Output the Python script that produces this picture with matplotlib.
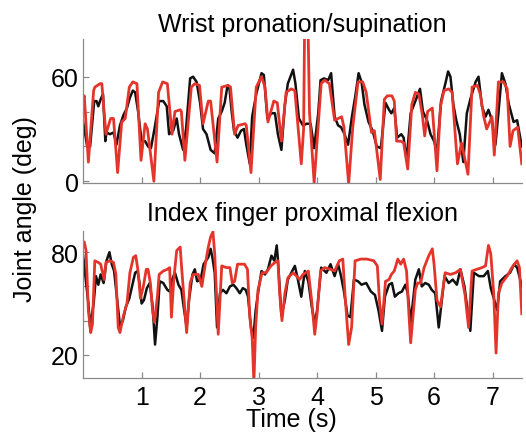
import matplotlib
matplotlib.use("Agg")
import matplotlib.pyplot as plt

plt.rcParams['font.family'] = ['Liberation Sans', 'DejaVu Sans']

# --- Wrist pronation/supination (deg) ---
wrist_t_black = [0.00, 0.07, 0.12, 0.19, 0.23, 0.26, 0.30, 0.34, 0.38, 0.40, 0.46, 0.52, 0.57, 0.63,
                 0.69, 0.75, 0.80, 0.85, 0.89, 0.94, 1.00, 1.06, 1.11, 1.16, 1.22, 1.30, 1.37, 1.43,
                 1.47, 1.54, 1.60, 1.64, 1.71, 1.76, 1.83, 1.88, 1.94, 2.00, 2.05, 2.11, 2.18, 2.25,
                 2.31, 2.37, 2.42, 2.47, 2.50, 2.54, 2.58, 2.64, 2.70, 2.75, 2.79, 2.85, 2.89, 2.96,
                 3.05, 3.09, 3.15, 3.22, 3.28, 3.33, 3.39, 3.45, 3.50, 3.59, 3.63, 3.69, 3.76, 3.82,
                 3.89, 3.95, 4.02, 4.06, 4.12, 4.19, 4.24, 4.30, 4.36, 4.41, 4.47, 4.53, 4.60, 4.65,
                 4.71, 4.76, 4.81, 4.88, 4.95, 5.02, 5.09, 5.17, 5.23, 5.27, 5.32, 5.37, 5.44, 5.48,
                 5.53, 5.60, 5.68, 5.76, 5.81, 5.88, 5.94, 6.00, 6.05, 6.12, 6.20, 6.24, 6.28, 6.33,
                 6.38, 6.44, 6.50, 6.56, 6.62, 6.71, 6.76, 6.82, 6.88, 6.93, 6.99, 7.05, 7.10, 7.16,
                 7.22, 7.28, 7.36, 7.42, 7.50]
wrist_black = [34, 20, 20, 46, 46, 43, 47, 50, 23, 28, 27, 28, 21, 32,
               38, 42, 48, 52, 51, 40, 23, 23, 20, 19, 30, 46, 46, 43,
               27, 29, 36, 27, 18, 30, 59, 60, 57, 45, 30, 27, 18, 16,
               36, 40, 45, 55, 54, 40, 29, 25, 29, 30, 21, 10, 37, 50,
               62, 61, 36, 39, 39, 27, 18, 44, 56, 64, 56, 36, 32, 33,
               33, 19, 39, 58, 59, 58, 62, 37, 32, 31, 27, 21, 38, 48,
               62, 57, 44, 34, 29, 20, 19, 45, 41, 39, 42, 25, 27, 25,
               12, 39, 46, 53, 40, 35, 27, 23, 17, 46, 57, 63, 60, 44,
               35, 27, 11, 39, 47, 57, 60, 43, 37, 41, 35, 21, 39, 62,
               56, 44, 34, 35, 20]

wrist_t_red = [0.00, 0.02, 0.09, 0.18, 0.20, 0.29, 0.32, 0.39, 0.47, 0.52, 0.59, 0.66, 0.72, 0.79,
               0.85, 0.92, 0.99, 1.06, 1.10, 1.21, 1.29, 1.36, 1.44, 1.52, 1.57, 1.66, 1.68, 1.74,
               1.85, 1.91, 1.99, 2.05, 2.14, 2.18, 2.29, 2.37, 2.48, 2.52, 2.59, 2.65, 2.77, 2.79,
               2.87, 2.96, 3.05, 3.11, 3.16, 3.26, 3.32, 3.39, 3.47, 3.56, 3.62, 3.73, 3.77, 3.79,
               3.84, 3.87, 3.95, 4.07, 4.13, 4.21, 4.30, 4.42, 4.46, 4.54, 4.61, 4.70, 4.78, 4.84,
               4.93, 4.98, 5.08, 5.15, 5.20, 5.28, 5.32, 5.36, 5.43, 5.48, 5.55, 5.62, 5.68, 5.74,
               5.80, 5.84, 5.89, 5.97, 6.05, 6.11, 6.17, 6.25, 6.31, 6.37, 6.40, 6.47, 6.58, 6.65,
               6.74, 6.79, 6.85, 6.90, 6.99, 7.03, 7.10, 7.19, 7.25, 7.30, 7.35, 7.43, 7.50]
wrist_red = [47, 49, 11, 52, 54, 56, 56, 27, 36, 36, 5, 34, 36, 54,
             57, 56, 12, 33, 30, 0, 51, 57, 56, 27, 40, 41, 40, 12,
             54, 56, 55, 33, 46, 46, 11, 54, 55, 54, 27, 32, 33, 32,
             5, 54, 60, 54, 34, 46, 45, 23, 51, 53, 52, 10, 30, 100,
             100, 40, -1, 56, 58, 56, 35, 37, 31, -1.5, 31, 57, 57, 51,
             28, 29, 1, 47, 49, 49, 46, 23, 23, 22, 7, 44, 51, 50,
             38, 26, 40, 42, 6, 43, 52, 53, 51, 23, 10, 22, 4, 54,
             55, 50, 37, 30, 37, 15, 57, 57, 53, 20, 29, 31, 10]

# --- Index finger proximal flexion (deg) ---
index_t_black = [0.00, 0.09, 0.12, 0.18, 0.22, 0.26, 0.30, 0.35, 0.40, 0.45, 0.49, 0.53, 0.57, 0.63,
                 0.68, 0.73, 0.79, 0.85, 0.89, 0.93, 0.96, 1.00, 1.04, 1.09, 1.14, 1.19, 1.23, 1.27,
                 1.31, 1.37, 1.44, 1.48, 1.52, 1.57, 1.63, 1.68, 1.72, 1.77, 1.81, 1.87, 1.91, 1.95,
                 2.01, 2.06, 2.14, 2.18, 2.21, 2.25, 2.29, 2.34, 2.39, 2.45, 2.51, 2.57, 2.62, 2.68,
                 2.73, 2.78, 2.82, 2.87, 2.91, 2.95, 2.99, 3.05, 3.11, 3.16, 3.22, 3.27, 3.31, 3.33,
                 3.39, 3.45, 3.50, 3.56, 3.62, 3.66, 3.73, 3.79, 3.85, 3.91, 3.96, 4.00, 4.07, 4.16,
                 4.23, 4.30, 4.36, 4.41, 4.46, 4.52, 4.57, 4.63, 4.70, 4.76, 4.84, 4.92, 4.99, 5.05,
                 5.11, 5.16, 5.23, 5.28, 5.33, 5.39, 5.45, 5.51, 5.55, 5.60, 5.68, 5.74, 5.79, 5.85,
                 5.91, 5.96, 6.02, 6.08, 6.18, 6.25, 6.32, 6.39, 6.45, 6.52, 6.58, 6.62, 6.68, 6.77,
                 6.85, 6.92, 6.97, 7.08, 7.13, 7.22, 7.30, 7.37, 7.42, 7.48, 7.50]
index_black = [78, 50, 36, 50, 66, 61, 67, 62, 75, 80, 73, 69, 56, 37,
               40, 48, 53, 62, 68, 69, 63, 50, 52, 59, 62, 48, 26, 42,
               63, 62, 58, 57, 64, 68, 61, 58, 48, 36, 52, 67, 70, 63,
               64, 73, 77, 82, 77, 68, 36, 56, 58, 56, 60, 61, 59, 56,
               59, 58, 54, 36, 30, 46, 56, 69, 67, 70, 78, 75, 84, 76,
               43, 52, 64, 68, 72, 66, 54, 69, 63, 48, 38, 46, 71, 68,
               73, 66, 73, 66, 57, 43, 42, 64, 63, 61, 62, 57, 55, 46,
               34, 54, 61, 62, 54, 56, 57, 61, 56, 39, 64, 70, 60, 62,
               61, 58, 56, 36, 66, 62, 64, 61, 70, 60, 44, 34, 68, 66,
               66, 69, 59, 46, 63, 66, 68, 73, 71, 63, 60]

index_t_red = [0.00, 0.02, 0.05, 0.09, 0.13, 0.16, 0.20, 0.26, 0.30, 0.36, 0.39, 0.46, 0.52, 0.56,
               0.60, 0.63, 0.69, 0.75, 0.80, 0.86, 0.90, 0.94, 0.98, 1.03, 1.08, 1.11, 1.15, 1.19,
               1.22, 1.27, 1.30, 1.37, 1.44, 1.48, 1.51, 1.55, 1.60, 1.66, 1.68, 1.77, 1.83, 1.88,
               1.97, 2.03, 2.08, 2.14, 2.18, 2.22, 2.25, 2.31, 2.37, 2.45, 2.51, 2.55, 2.59, 2.64,
               2.76, 2.81, 2.85, 2.89, 2.92, 2.95, 2.99, 3.06, 3.13, 3.21, 3.28, 3.33, 3.36, 3.40,
               3.45, 3.50, 3.59, 3.65, 3.70, 3.76, 3.85, 3.91, 3.96, 4.00, 4.06, 4.13, 4.23, 4.30,
               4.38, 4.44, 4.48, 4.54, 4.59, 4.65, 4.75, 4.85, 4.97, 5.03, 5.07, 5.11, 5.17, 5.23,
               5.27, 5.32, 5.38, 5.43, 5.48, 5.53, 5.57, 5.60, 5.68, 5.72, 5.77, 5.83, 5.91, 5.97,
               6.00, 6.05, 6.11, 6.15, 6.19, 6.28, 6.37, 6.45, 6.53, 6.59, 6.65, 6.73, 6.82, 6.88,
               6.93, 6.97, 7.02, 7.06, 7.10, 7.16, 7.25, 7.33, 7.42, 7.46, 7.50]
index_red = [86, 86, 81, 46, 33, 38, 75, 74, 73, 64, 74, 75, 74, 67,
             36, 33, 43, 50, 68, 77, 78, 69, 53, 60, 70, 70, 62, 45,
             39, 54, 67, 69, 70, 71, 42, 64, 81, 83, 73, 33, 62, 67,
             67, 60, 71, 83, 89, 92, 79, 32, 72, 71, 71, 62, 63, 73,
             73, 70, 42, 30, 4, 36, 58, 68, 68, 72, 74, 75, 56, 40,
             56, 65, 68, 66, 64, 67, 69, 51, 32, 44, 69, 71, 70, 69,
             75, 76, 54, 26, 36, 75, 76, 76, 75, 72, 50, 38, 63, 64,
             67, 69, 76, 73, 76, 69, 44, 27, 58, 62, 62, 71, 78, 82,
             73, 52, 48, 58, 68, 67, 68, 70, 55, 36, 69, 70, 71, 72,
             84, 79, 56, 21, 56, 62, 66, 71, 75, 71, 44]

x_ticks = [1, 2, 3, 4, 5, 6, 7]
wrist_yticks = [0, 20, 40, 60]
wrist_ylabels = ['0', '', '', '60']
index_yticks = [20, 40, 60, 80]
index_ylabels = ['20', '', '', '80']

BLACK = '#111111'
RED = '#e3352b'
GREY = '#8a8a8a'

fig = plt.figure(figsize=(5.26, 4.35), dpi=100)
ax1 = fig.add_axes([0.158, 0.577, 0.834, 0.331])
ax2 = fig.add_axes([0.158, 0.129, 0.834, 0.338])


def style(ax):
    for side in ('top', 'right'):
        ax.spines[side].set_visible(False)
    for side in ('left', 'bottom'):
        ax.spines[side].set_color(GREY)
        ax.spines[side].set_linewidth(0.9)
    ax.tick_params(direction='in', length=4, width=0.9, color=GREY,
                   labelsize=18, pad=3)
    ax.set_xlim(0, 7.5)
    ax.set_xticks(x_ticks)


# top panel
ax1.plot(wrist_t_black, wrist_black, color=BLACK, lw=1.8)
ax1.plot(wrist_t_red, wrist_red, color=RED, lw=2.0)
style(ax1)
ax1.set_ylim(-1, 81.6)
ax1.set_yticks(wrist_yticks, wrist_ylabels)
ax1.set_xticklabels([])
ax1.set_title('Wrist pronation/supination', fontsize=18, pad=6)

# bottom panel
ax2.plot(index_t_black, index_black, color=BLACK, lw=1.8)
ax2.plot(index_t_red, index_red, color=RED, lw=2.0)
style(ax2)
ax2.set_ylim(6.5, 92.5)
ax2.set_yticks(index_yticks, index_ylabels)
ax2.set_xticklabels([str(v) for v in x_ticks])
ax2.tick_params(axis='x', pad=5)
ax2.set_title('Index finger proximal flexion', fontsize=18, pad=8)
ax2.set_xlabel('Time (s)', fontsize=18)
ax2.xaxis.set_label_coords(0.474, -0.2)

fig.text(0.048, 0.52, 'Joint angle (deg)', rotation=90, fontsize=18,
         ha='center', va='center')

fig.savefig('out.png', dpi=100)
